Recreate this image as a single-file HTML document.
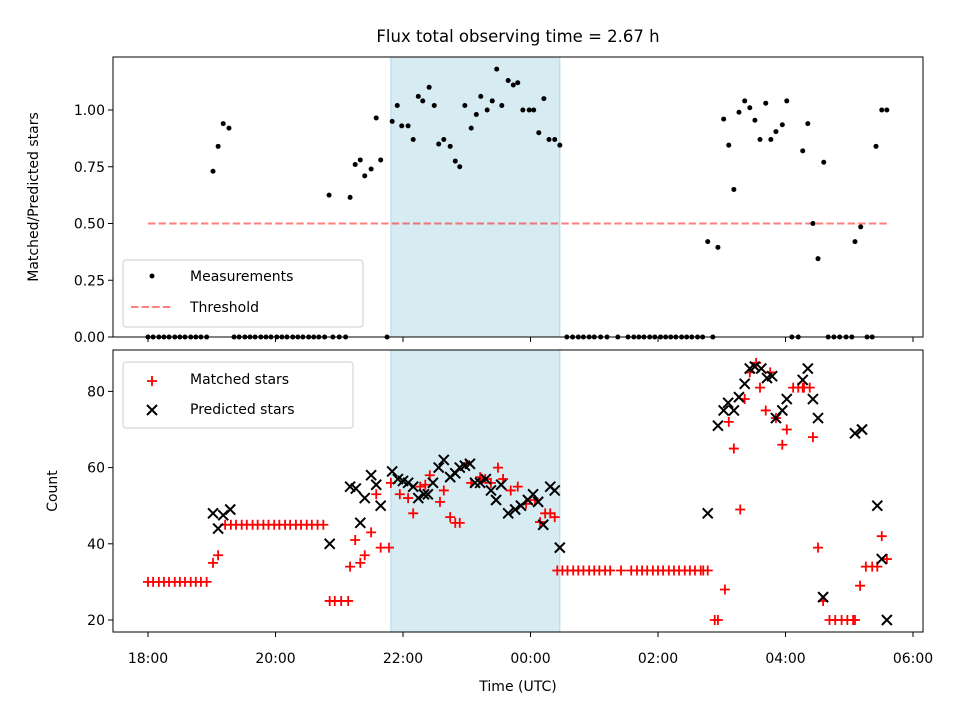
<!DOCTYPE html>
<html><head><meta charset="utf-8"><style>
body{margin:0;background:#fff;}
svg text{font-family:"DejaVu Sans","Liberation Sans",sans-serif;fill:#000;}
</style></head><body>
<svg id="chart" width="960" height="720" xmlns="http://www.w3.org/2000/svg">
<rect width="960" height="720" fill="#fff"/>
<text x="518" y="42" font-size="16.5" text-anchor="middle">Flux total observing time = 2.67 h</text>
<text transform="translate(38,197) rotate(-90)" font-size="14" text-anchor="middle">Matched/Predicted stars</text>
<text transform="translate(57,491) rotate(-90)" font-size="14" text-anchor="middle">Count</text>
<text x="518" y="691" font-size="14" text-anchor="middle">Time (UTC)</text>
<g id="topPanel"></g><g id="botPanel"></g>
</svg>
<script>
// hours since 18:00
const ratioTimes=[1.02,1.10,1.18,1.27,2.84,3.17,3.25,3.33,3.40,3.50,3.58,3.65,3.83,3.91,3.98,4.08,4.16,4.24,4.31,4.41,4.49,4.56,4.64,4.74,4.82,4.89,4.97,5.07,5.15,5.22,5.32,5.40,5.47,5.55,5.65,5.73,5.80,5.88,5.98,6.05,6.13,6.21,6.29,6.38,6.46,8.78,8.94,9.03,9.11,9.19,9.27,9.36,9.44,9.52,9.60,9.69,9.77,9.85,9.95,10.02,10.27,10.35,10.43,10.51,10.60,11.09,11.18,11.42,11.51,11.59];
const ratioValues=[0.73,0.84,0.94,0.92,0.625,0.615,0.76,0.78,0.71,0.74,0.965,0.78,0.95,1.02,0.93,0.93,0.87,1.06,1.04,1.10,1.02,0.85,0.87,0.84,0.775,0.75,1.02,0.92,0.98,1.06,1.00,1.04,1.18,1.02,1.13,1.11,1.12,1.00,1.00,1.00,0.90,1.05,0.87,0.87,0.845,0.42,0.395,0.96,0.845,0.65,0.99,1.04,1.01,0.955,0.87,1.03,0.87,0.905,0.935,1.04,0.82,0.94,0.50,0.345,0.77,0.42,0.485,0.84,1.00,1.00];
const zeroTimes=[0,0.08,0.17,0.25,0.33,0.42,0.5,0.58,0.67,0.75,0.83,0.92,1.35,1.43,1.52,1.6,1.68,1.77,1.85,1.93,2.02,2.1,2.18,2.27,2.35,2.43,2.52,2.6,2.68,2.77,2.9,3.0,3.1,3.75,6.57,6.66,6.75,6.83,6.92,7.0,7.1,7.2,7.37,7.53,7.62,7.7,7.78,7.87,7.95,8.04,8.12,8.2,8.28,8.37,8.45,8.53,8.62,8.7,8.86,10.1,10.2,10.67,10.76,10.85,10.95,11.04,11.28,11.36];
const threshold=0.5, thrStart=0, thrEnd=11.59;
const shadeStart=3.81, shadeEnd=6.46;
const matchedTimes=[0,0.08,0.17,0.25,0.33,0.42,0.5,0.58,0.67,0.75,0.83,0.92,1.02,1.10,1.21,1.30,1.38,1.47,1.55,1.64,1.72,1.81,1.89,1.98,2.06,2.15,2.23,2.32,2.40,2.49,2.57,2.66,2.75,2.85,2.93,3.03,3.14,3.17,3.33,3.40,3.25,3.50,3.58,3.65,3.78,3.81,3.95,4.08,4.16,4.27,4.35,4.42,4.58,4.64,4.74,4.82,4.89,4.99,5.07,5.21,5.29,5.38,5.49,5.57,5.69,5.80,5.93,6.07,6.15,6.23,6.31,6.38,6.42,6.50,6.58,6.67,6.75,6.83,6.92,7.00,7.08,7.17,7.25,7.42,7.58,7.67,7.75,7.83,7.92,8.00,8.08,8.17,8.25,8.33,8.42,8.50,8.58,8.67,8.71,8.78,8.89,8.94,9.05,9.11,9.19,9.29,9.36,9.44,9.54,9.60,9.69,9.76,9.85,9.95,10.02,10.12,10.20,10.29,10.38,10.27,10.43,10.51,10.59,10.69,10.78,10.88,10.97,11.06,11.09,11.17,11.26,11.36,11.44,11.51,11.59];
const matchedValues=[30,30,30,30,30,30,30,30,30,30,30,30,35,37,45,45,45,45,45,45,45,45,45,45,45,45,45,45,45,45,45,45,45,25,25,25,25,34,35,37,41,43,53,39,39,56,53,52,48,55,55.5,58,51,54,47,45.5,45.5,61,56,57.5,57,56,60,57,54,55,50.5,51.5,45.7,48,48,47,33,33,33,33,33,33,33,33,33,33,33,33,33,33,33,33,33,33,33,33,33,33,33,33,33,33,33,33,20,20,28,72,65,49,78,85,87.5,81,75,85,73,66,70,81,81,81,81,81,68,39,25,20,20,20,20,20,20,29,34,34,34,42,36,20];
const predTimes=[1.02,1.10,1.18,1.29,2.85,3.17,3.26,3.33,3.40,3.50,3.58,3.65,3.83,3.92,4.00,4.08,4.16,4.24,4.33,4.39,4.47,4.56,4.64,4.74,4.82,4.89,4.97,5.05,5.13,5.21,5.30,5.38,5.46,5.54,5.65,5.76,5.85,5.96,6.04,6.12,6.20,6.31,6.38,6.46,8.78,8.94,9.03,9.10,9.19,9.27,9.36,9.44,9.52,9.62,9.71,9.79,9.85,9.95,10.02,10.27,10.35,10.43,10.51,10.59,11.09,11.20,11.44,11.51,11.59];
const predValues=[48,44,47.5,49,40,55,54.5,45.5,52,58,55.5,50,59,57,56.5,56,55,52,53,53,56,60,62,57.5,58.5,60,60.5,61,56,56,57,54,51.5,55.5,48,49,50,51.5,53,51,45,55,54,39,48,71,75,77,75,78.5,82,86,86.5,86,83.5,84,73,75,78,83,86,78,73,26,69,70,50,36,20];
const xTickHours=[0,2,4,6,8,10,12];
const xTickLabels=["18:00","20:00","22:00","00:00","02:00","04:00","06:00"];
const topTicks=[0,0.25,0.5,0.75,1.0];
const topTickLabels=["0.00","0.25","0.50","0.75","1.00"];
const botTicks=[20,40,60,80];

const NS="http://www.w3.org/2000/svg";
const L=113,R=923;
const X=h=>148+h*63.75;
const TT=57,TB=337,BT=350,BB=632;
const Yt=v=>337-v*227;
const Yb=v=>620-(v-20)*3.81;
function mk(p,tag,a){const e=document.createElementNS(NS,tag);for(const k in a)e.setAttribute(k,a[k]);p.appendChild(e);return e;}
const topG=document.getElementById('topPanel'),botG=document.getElementById('botPanel');

function panel(g,t,b,name){
  const s=mk(g,'rect',{x:X(shadeStart),y:t,width:X(shadeEnd)-X(shadeStart),height:b-t,fill:'#add8e6','fill-opacity':0.5,stroke:'#add8e6','stroke-width':1});
  
  
  xTickHours.forEach(h=>{mk(g,'line',{x1:X(h),x2:X(h),y1:b,y2:b+5,stroke:'#000','stroke-width':1});});
}
panel(topG,TT,TB,'top');
panel(botG,BT,BB,'bottom');

const th=mk(topG,'line',{x1:X(thrStart),x2:X(thrEnd),y1:Yt(threshold),y2:Yt(threshold),stroke:'#ff0000','stroke-opacity':0.5,'stroke-width':2,'stroke-dasharray':'7.4,3.2'});



const mg=mk(topG,'g',{});


ratioTimes.forEach((h,i)=>{const c=mk(mg,'circle',{cx:X(h),cy:Yt(ratioValues[i]),r:2.5,fill:'#000'});

});
zeroTimes.forEach(h=>{const c=mk(mg,'circle',{cx:X(h),cy:Yt(0),r:2.5,fill:'#000'});

});

const rg=mk(botG,'g',{});


matchedTimes.forEach((h,i)=>{const x=X(h),y=Yb(matchedValues[i]);
const p=mk(rg,'path',{d:`M${x-5} ${y}H${x+5}M${x} ${y-5}V${y+5}`,stroke:'#ff0000','stroke-width':1.8,fill:'none'});

});
const kg=mk(botG,'g',{});


predTimes.forEach((h,i)=>{const x=X(h),y=Yb(predValues[i]);
const p=mk(kg,'path',{d:`M${x-5} ${y-5}L${x+5} ${y+5}M${x-5} ${y+5}L${x+5} ${y-5}`,stroke:'#000','stroke-width':2,fill:'none'});

});

[[topG,TT,TB],[botG,BT,BB]].forEach(([g,t,b])=>{mk(g,'rect',{x:L,y:t,width:R-L,height:b-t,fill:'none',stroke:'#000','stroke-width':1});});
topTicks.forEach((v,i)=>{mk(topG,'line',{x1:L-5,x2:L,y1:Yt(v),y2:Yt(v),stroke:'#000'});
const t=mk(topG,'text',{x:L-8,y:Yt(v)+5,'font-size':14,'text-anchor':'end'});t.textContent=topTickLabels[i];

});
botTicks.forEach(v=>{mk(botG,'line',{x1:L-5,x2:L,y1:Yb(v),y2:Yb(v),stroke:'#000'});
const t=mk(botG,'text',{x:L-8,y:Yb(v)+5,'font-size':14,'text-anchor':'end'});t.textContent=String(v);

});
xTickHours.forEach((h,i)=>{const t=mk(botG,'text',{x:X(h),y:BB+31,'font-size':14,'text-anchor':'middle'});t.textContent=xTickLabels[i];

});

const lg1=mk(topG,'g',{});


mk(lg1,'rect',{x:123,y:260,width:240,height:67,rx:3,fill:'#fff','fill-opacity':0.8,stroke:'#ccc'});
mk(lg1,'circle',{cx:152,cy:276,r:2.5,fill:'#000'});
mk(lg1,'line',{x1:131,x2:173,y1:307,y2:307,stroke:'#ff0000','stroke-opacity':0.5,'stroke-width':2,'stroke-dasharray':'7.4,3.2'});
let t1=mk(lg1,'text',{x:190,y:281,'font-size':14});t1.textContent='Measurements';
let t2=mk(lg1,'text',{x:190,y:312,'font-size':14});t2.textContent='Threshold';
const lg2=mk(botG,'g',{});


mk(lg2,'rect',{x:123,y:362,width:230,height:66,rx:3,fill:'#fff','fill-opacity':0.8,stroke:'#ccc'});
mk(lg2,'path',{d:'M147 381H157M152 376V386',stroke:'#ff0000','stroke-width':1.8});
mk(lg2,'path',{d:'M147 405L157 415M147 415L157 405',stroke:'#000','stroke-width':2});
let t3=mk(lg2,'text',{x:190,y:384,'font-size':14});t3.textContent='Matched stars';
let t4=mk(lg2,'text',{x:190,y:414,'font-size':14});t4.textContent='Predicted stars';
</script>
</body></html>
